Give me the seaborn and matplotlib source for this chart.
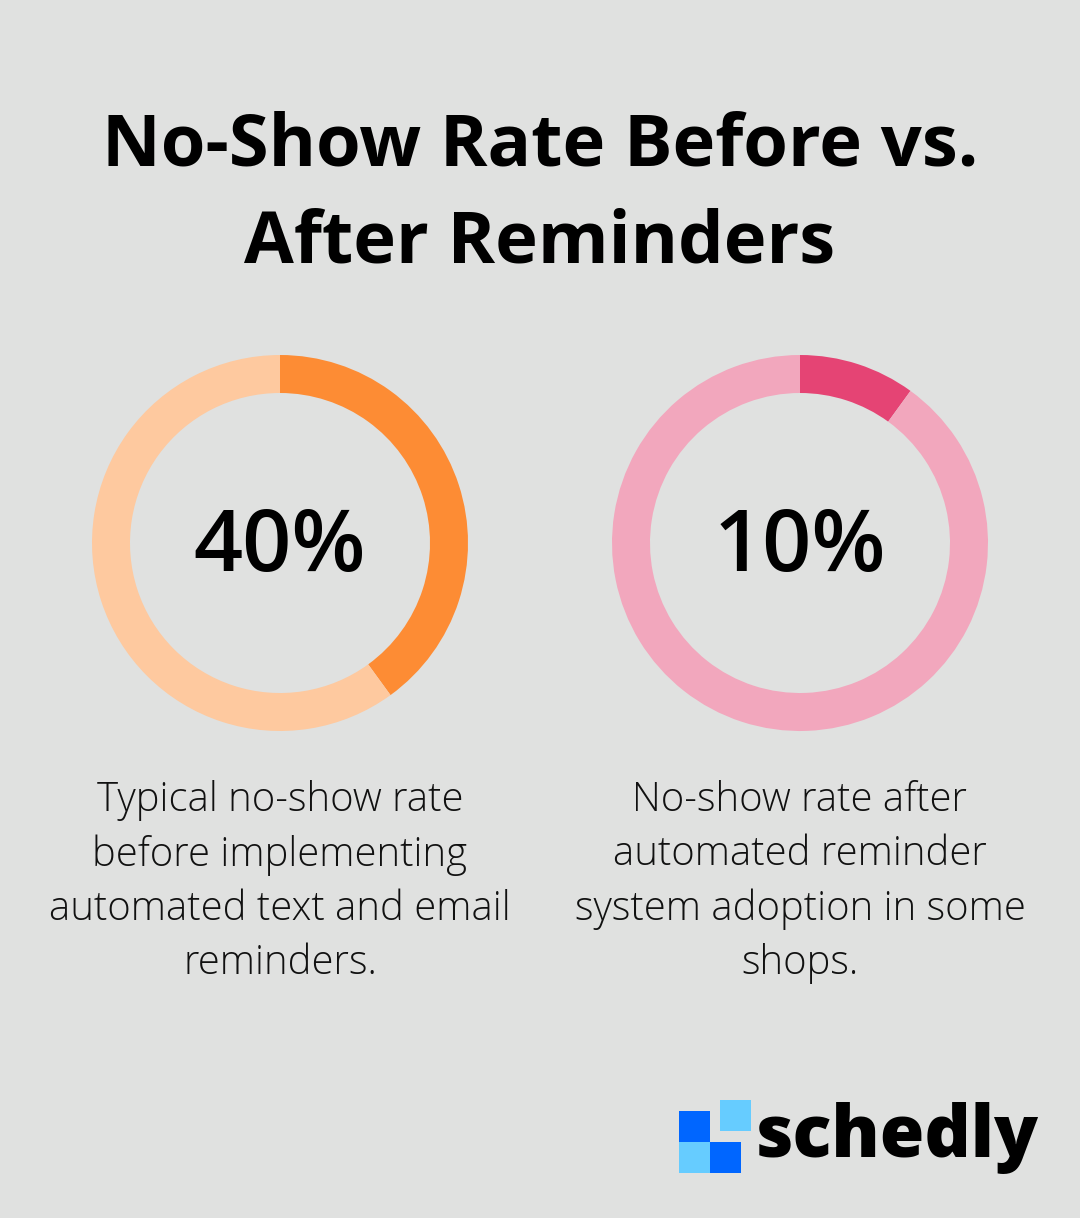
import matplotlib
matplotlib.use("Agg")
import matplotlib.pyplot as plt
import seaborn as sns
from matplotlib.patches import Rectangle

# data
labels = ["Before reminders", "After reminders"]
rates = [40, 10]
descriptions = [
    "Typical no-show rate\nbefore implementing\nautomated text and email\nreminders.",
    "No-show rate after\nautomated reminder\nsystem adoption in some\nshops.",
]
main_colors = ["#fd8c34", "#e54474"]
rest_colors = ["#fec99f", "#f2a7bd"]

bg = "#e0e1e0"
sns.set_theme(style="white")
plt.rcParams["font.family"] = ["Open Sans", "DejaVu Sans"]

W, H = 1080, 1218
fig = plt.figure(figsize=(W / 100, H / 100), dpi=100, facecolor=bg)

fig.text(0.5, 1 - 195 / H, "No-Show Rate Before vs.\nAfter Reminders", ha="center", va="center",
         fontsize=52, fontweight="bold", color="#000000", linespacing=1.46)

centers_x = [280, 800]
R = 188
for i, (rate, desc) in enumerate(zip(rates, descriptions)):
    cx, cy = centers_x[i], 543
    ax = fig.add_axes([(cx - R) / W, (H - cy - R) / H, 2 * R / W, 2 * R / H])
    ax.pie([rate, 100 - rate], colors=[main_colors[i], rest_colors[i]], startangle=90,
           counterclock=False, radius=1, wedgeprops=dict(width=38 / R, linewidth=0))
    ax.set_xlim(-1, 1)
    ax.set_ylim(-1, 1)
    ax.set_aspect("equal")
    ax.axis("off")
    ax.text(0, -0.03, f"{rate}%", ha="center", va="center", fontsize=62,
            fontweight="semibold", color="#000000")
    fig.text(cx / W, 1 - 882 / H, desc, ha="center", va="center", fontsize=28.8,
             fontweight="light", color="#111111", linespacing=1.43)

# logo
lax = fig.add_axes([0, 0, 1, 1], facecolor="none")
lax.set_xlim(0, W)
lax.set_ylim(H, 0)
lax.axis("off")
for (x0, y0, c) in [(720, 1100, "#66ccff"), (679, 1111, "#0066ff"),
                    (679, 1142, "#66ccff"), (710, 1142, "#0066ff")]:
    lax.add_patch(Rectangle((x0, y0), 31, 31, color=c, lw=0))
lax.text(755, 1157, "schedly", ha="left", va="baseline", fontsize=52,
         fontweight="heavy", color="#000000")

fig.savefig("out.png", dpi=100, facecolor=bg)
